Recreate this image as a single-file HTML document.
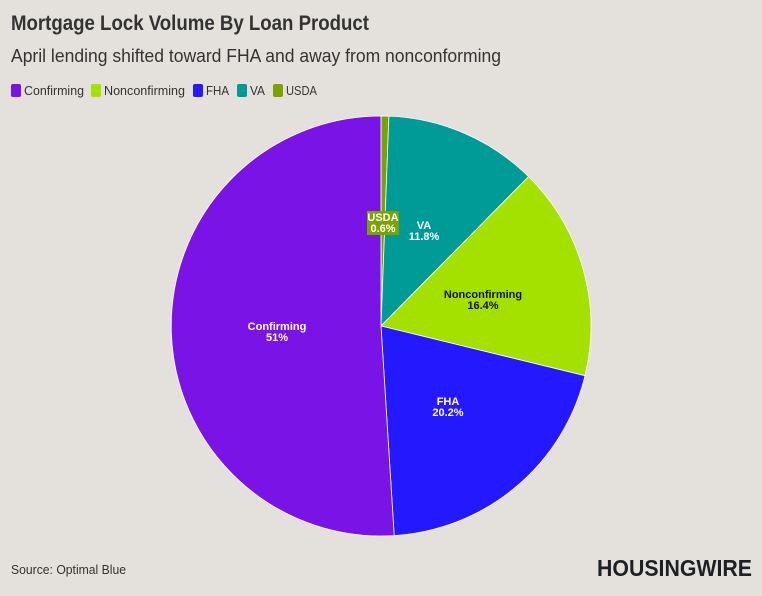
<!DOCTYPE html>
<html><head><meta charset="utf-8"><style>
html,body{margin:0;padding:0;background:#e4e1dd;}
svg{display:block;font-family:"Liberation Sans",sans-serif;}
</style></head><body>
<svg width="762" height="596" viewBox="0 0 762 596" xmlns="http://www.w3.org/2000/svg">
<rect width="762" height="596" fill="#e4e1dd"/>
<text x="11" y="30" font-size="21" font-weight="bold" fill="#333" textLength="358" lengthAdjust="spacingAndGlyphs">Mortgage Lock Volume By Loan Product</text>
<text x="11" y="62" font-size="18" fill="#333" textLength="490" lengthAdjust="spacingAndGlyphs">April lending shifted toward FHA and away from nonconforming</text>
<g font-size="13" fill="#333">
<rect x="11" y="84" width="10" height="13" rx="2" fill="#7a14e6"/><text x="24" y="95" textLength="60" lengthAdjust="spacingAndGlyphs">Confirming</text>
<rect x="91" y="84" width="10" height="13" rx="2" fill="#a4e000"/><text x="104" y="95" textLength="81" lengthAdjust="spacingAndGlyphs">Nonconfirming</text>
<rect x="193" y="84" width="10" height="13" rx="2" fill="#2418ff"/><text x="206" y="95" textLength="23" lengthAdjust="spacingAndGlyphs">FHA</text>
<rect x="237" y="84" width="10" height="13" rx="2" fill="#009b96"/><text x="250" y="95" textLength="15" lengthAdjust="spacingAndGlyphs">VA</text>
<rect x="273" y="84" width="10" height="13" rx="2" fill="#7ba300"/><text x="286" y="95" textLength="31" lengthAdjust="spacingAndGlyphs">USDA</text>
</g>
<g stroke="#fff" stroke-width="0.8">
<path d="M381,326 L381,116 A210,210 0 0 1 388.9,116.15 Z" fill="#7ba300"/>
<path d="M381,326 L388.9,116.15 A210,210 0 0 1 528.6,176.6 Z" fill="#009b96"/>
<path d="M381,326 L528.6,176.6 A210,210 0 0 1 585.0,375.7 Z" fill="#a4e000"/>
<path d="M381,326 L585.0,375.7 A210,210 0 0 1 394.2,535.6 Z" fill="#2418ff"/>
<path d="M381,326 L394.2,535.6 A210,210 0 1 1 381,116 Z" fill="#7a14e6"/>
</g>
<g font-size="11" font-weight="bold" text-anchor="middle">
<rect x="367" y="211" width="32" height="24" fill="#7ba300"/>
<text x="383" y="221" fill="#fff">USDA</text><text x="383" y="232" fill="#fff">0.6%</text>
<text x="424" y="229" fill="#fff">VA</text><text x="424" y="240" fill="#fff">11.8%</text>
<text x="483" y="298" fill="#111">Nonconfirming</text><text x="483" y="309" fill="#111">16.4%</text>
<text x="448" y="405" fill="#fff">FHA</text><text x="448" y="416" fill="#fff">20.2%</text>
<text x="277" y="330" fill="#fff">Confirming</text><text x="277" y="341" fill="#fff">51%</text>
</g>
<text x="11" y="574" font-size="13" fill="#333" textLength="115" lengthAdjust="spacingAndGlyphs">Source: Optimal Blue</text>
<text x="597" y="576" font-size="23" font-weight="bold" fill="#1d2125" textLength="155" lengthAdjust="spacingAndGlyphs">HOUSINGWIRE</text>
</svg>
</body></html>
